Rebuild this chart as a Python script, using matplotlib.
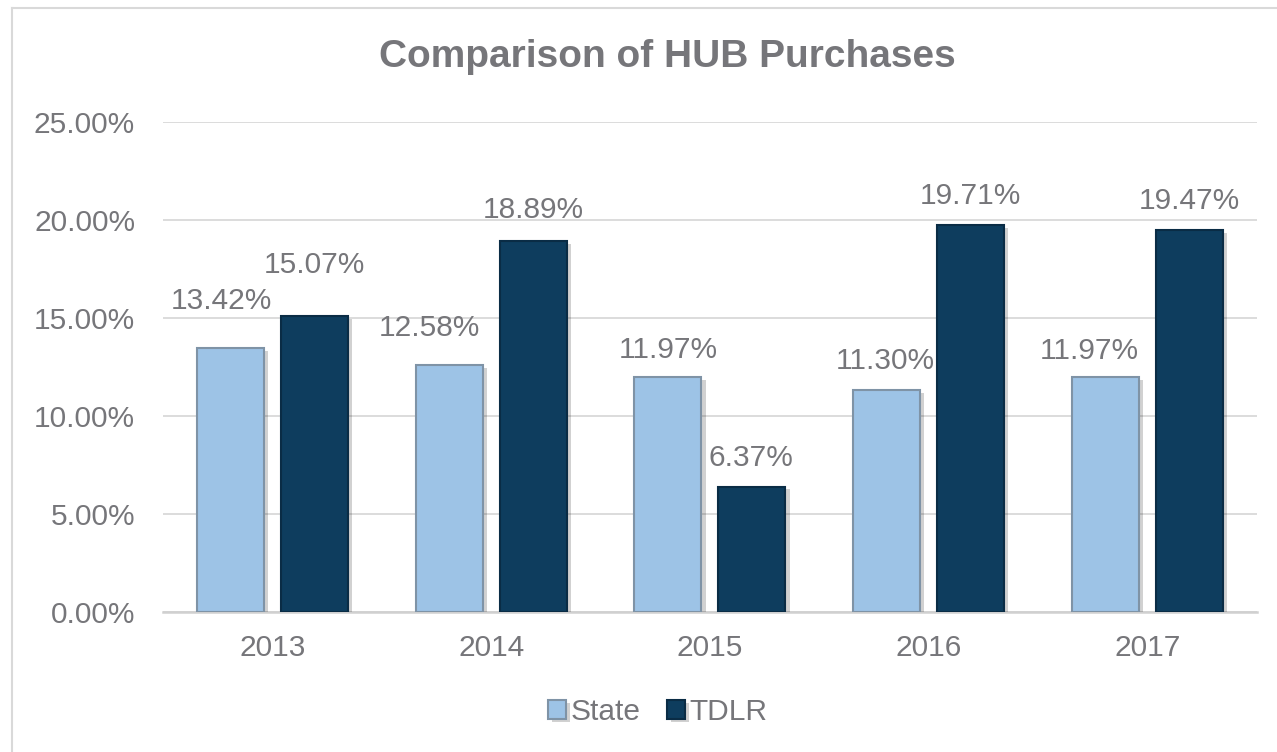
import numpy as np
import matplotlib
matplotlib.use('Agg')
import matplotlib.pyplot as plt
import matplotlib.patheffects as pe
from matplotlib.lines import Line2D

# data
years = ['2013', '2014', '2015', '2016', '2017']
state = [13.42, 12.58, 11.97, 11.30, 11.97]
tdlr = [15.07, 18.89, 6.37, 19.71, 19.47]
yticks = [0, 5, 10, 15, 20, 25]

# label nudges (pixels) as placed in the original chart
state_nudge = [(-9, 39), (-20, 29), (0, 19), (-1, 21), (-16, 18)]
tdlr_nudge = [(0, 43), (0, 23), (-1, 21), (0, 21), (0, 21)]

plt.rcParams['font.family'] = ['Liberation Sans', 'DejaVu Sans']
grey = '#76767a'
light = '#9DC3E6'
dark = '#0E3D5E'

fig = plt.figure(figsize=(12.77, 7.52), dpi=100)
ax = fig.add_axes([0.1276, 0.1868, 0.8567, 0.6516])

x = np.arange(len(years))
w = 0.306
off = 0.192
shadow = [pe.SimplePatchShadow(offset=(3, -2), shadow_rgbFace='#000000', alpha=0.18), pe.Normal()]
b1 = ax.bar(x - off, state, w, color=light, edgecolor='#7f93a6', linewidth=1.5, zorder=3, label='State')
b2 = ax.bar(x + off, tdlr, w, color=dark, edgecolor='#0a2c45', linewidth=1.5, zorder=3, label='TDLR')
for p in list(b1) + list(b2):
    p.set_path_effects(shadow)

for i in range(len(years)):
    ax.annotate(f'{state[i]:.2f}%', (x[i] - off, state[i]), xytext=state_nudge[i],
                textcoords='offset pixels', ha='center', va='baseline', fontsize=21.5, color=grey, zorder=5)
    ax.annotate(f'{tdlr[i]:.2f}%', (x[i] + off, tdlr[i]), xytext=tdlr_nudge[i],
                textcoords='offset pixels', ha='center', va='baseline', fontsize=21.5, color=grey, zorder=5)

ax.set_xlim(-0.5, 4.5)
ax.set_ylim(0, 25)
ax.set_yticks(yticks)
ax.set_yticklabels([f'{v:.2f}%' for v in yticks])
ax.set_xticks(x)
ax.set_xticklabels(years)
ax.tick_params(axis='y', length=0, pad=20, labelsize=21.5, labelcolor=grey)
ax.tick_params(axis='x', length=0, pad=16, labelsize=21.5, labelcolor=grey)
ax.grid(axis='y', color='#D9D9D9', linewidth=1.3, zorder=0)
for s in ['top', 'right', 'left']:
    ax.spines[s].set_visible(False)
ax.spines['bottom'].set_color('#D0D0D0')
ax.spines['bottom'].set_linewidth(1.8)

fig.text(0.523, 1 - 57 / 752, 'Comparison of HUB Purchases', ha='center', va='center',
         fontsize=28, fontweight='bold', color=grey)

leg = fig.legend(handles=[b1, b2], loc='center', bbox_to_anchor=(0.515, 1 - 712 / 752),
                 ncol=2, frameon=False, fontsize=21.5, handlelength=0.6, handleheight=0.6,
                 handletextpad=0.15, columnspacing=0.9, labelcolor=grey)

# outer chart border (only left/top visible)
fig.add_artist(Line2D([12 / 1277, 12 / 1277], [0, 1 - 8 / 752], color='#D9D9D9', lw=1.5))
fig.add_artist(Line2D([12 / 1277, 1], [1 - 8 / 752, 1 - 8 / 752], color='#D9D9D9', lw=1.5))

fig.savefig('out.png', dpi=100)
